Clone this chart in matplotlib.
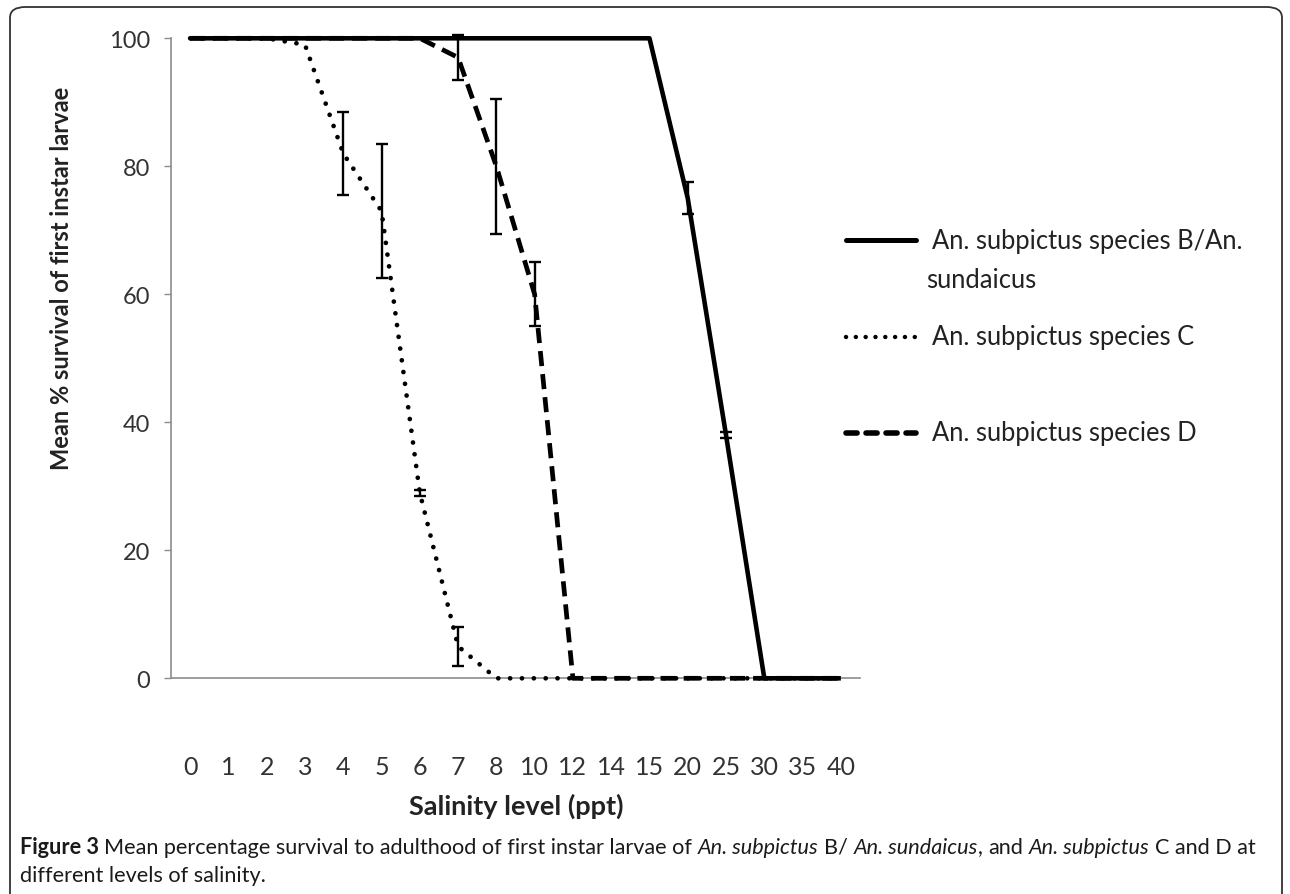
import numpy as np
import matplotlib
matplotlib.use('Agg')
import matplotlib.pyplot as plt
from matplotlib.lines import Line2D
from matplotlib.patches import FancyBboxPatch

# salinity categories (ppt) and mean % survival
salinity = ['0', '1', '2', '3', '4', '5', '6', '7', '8', '10', '12', '14', '15', '20', '25', '30', '35', '40']
species_b = [100, 100, 100, 100, 100, 100, 100, 100, 100, 100, 100, 100, 100, 75, 38, 0, 0, 0]
species_b_err = [0, 0, 0, 0, 0, 0, 0, 0, 0, 0, 0, 0, 0, 2.5, 0.5, 0, 0, 0]
species_c = [100, 100, 100, 99, 82, 73, 29, 5, 0, 0, 0, 0, 0, 0, 0, 0, 0, 0]
species_c_err = [0, 0, 0, 0, 6.5, 10.5, 0.5, 3, 0, 0, 0, 0, 0, 0, 0, 0, 0, 0]
species_d = [100, 100, 100, 100, 100, 100, 100, 97, 80, 60, 0, 0, 0, 0, 0, 0, 0, 0]
species_d_err = [0, 0, 0, 0, 0, 0, 0, 3.5, 10.5, 5, 0, 0, 0, 0, 0, 0, 0, 0]

labels = ['An. subpictus species B/An.\nsundaicus', 'An. subpictus species C', 'An. subpictus species D']

plain = ['Lato', 'DejaVu Sans']

fig = plt.figure(figsize=(12.9, 8.95), dpi=100)
ax = fig.add_axes([171/1290, 1-679.3/895, (860-171)/1290, (679.3-39.3)/895])

x = np.arange(len(salinity))

dotted = (0, (0.01, 2.5))
dashed = (0, (3.2, 1.7))

ax.plot(x, species_c, color='black', lw=3.4, linestyle=dotted, dash_capstyle='round', clip_on=False, zorder=3)
ax.plot(x, species_d, color='black', lw=3.4, linestyle=dashed, dash_capstyle='butt', clip_on=False, zorder=3)
ax.plot(x, species_b, color='black', lw=3.3, linestyle='-', solid_capstyle='butt', clip_on=False, zorder=4)

for vals, errs in [(species_b, species_b_err), (species_c, species_c_err), (species_d, species_d_err)]:
    vals = np.array(vals, dtype=float)
    errs = np.array(errs, dtype=float)
    m = errs > 0
    ax.errorbar(x[m], vals[m], yerr=errs[m], fmt='none', ecolor='black', elinewidth=1.7,
                capsize=4.4, capthick=1.7, zorder=5, clip_on=False)

ax.set_xlim(-0.5, len(salinity) - 0.5)
ax.set_ylim(0, 100)
ax.set_yticks([0, 20, 40, 60, 80, 100])
ax.set_xticks(x)
ax.set_xticklabels(salinity, family=plain, fontsize=18, color='#333333')
for t in ax.get_yticklabels():
    t.set_family(plain)
    t.set_fontsize(17)
    t.set_color('#333333')

ax.tick_params(axis='x', length=0, pad=55)
ax.tick_params(axis='y', direction='out', length=5, width=1, color='#8c8c8c', pad=10)
for s in ['top', 'right']:
    ax.spines[s].set_visible(False)
for s in ['left', 'bottom']:
    ax.spines[s].set_color('#8c8c8c')
    ax.spines[s].set_linewidth(1.2)

fig.text(516/1290, 1-806/895, 'Salinity level (ppt)', ha='center', va='center',
         family=plain, fontweight='bold', fontsize=19.5, color='#222222')
fig.text(62/1290, 1-278/895, 'Mean % survival of first instar larvae', ha='center', va='center',
         rotation=90, family=plain, fontweight='bold', fontsize=17, color='#222222')

# legend, drawn by hand so the first handle sits on the first text line
leg_y = [241, 338, 434]
leg_styles = [dict(linestyle='-', lw=3.6, solid_capstyle='round'),
              dict(linestyle=(0, (0.01, 2.2)), lw=3.2, dash_capstyle='round'),
              dict(linestyle=(0, (2.0, 1.6)), lw=4.0, dash_capstyle='round')]
for yy, lab, st in zip(leg_y, labels, leg_styles):
    fy = 1 - yy/895
    fig.add_artist(Line2D([846/1290, 916/1290], [fy, fy], color='black', transform=fig.transFigure, **st))
    first, *rest = lab.split('\n')
    fig.text(932/1290, fy, first, ha='left', va='center', family=plain, fontsize=18.4, color='#222222')
    for k, r in enumerate(rest):
        fig.text(926/1290, fy - (k+1)*39/895, r, ha='left', va='center', family=plain, fontsize=18.4, color='#222222')

# caption with mixed bold / italic pieces
renderer = fig.canvas.get_renderer()
cap_size = 15.6


def width_of(s, **kw):
    t = fig.text(0, 0, s, fontsize=cap_size, family=plain, **kw)
    w = t.get_window_extent(renderer).width
    t.remove()
    return w


space_w = width_of('x x') - width_of('xx')

line1 = [('Figure 3', 'bold', True),
         ('Mean percentage survival to adulthood of first instar larvae of', 'normal', True),
         ('An. subpictus', 'italic', True),
         ('B/', 'normal', True),
         ('An. sundaicus', 'italic', False),
         (',', 'normal', True),
         ('and', 'normal', True),
         ('An. subpictus', 'italic', True),
         ('C and D at', 'normal', False)]
line2 = [('different levels of salinity.', 'normal', False)]

for parts, yy in [(line1, 848), (line2, 876)]:
    px = 20.0
    for txt, style, sp in parts:
        kw = dict(fontweight='bold') if style == 'bold' else (dict(fontstyle='italic') if style == 'italic' else {})
        t = fig.text(px/1290, 1 - yy/895, txt, ha='left', va='center', fontsize=cap_size,
                     family=plain, color='#1a1a1a', **kw)
        px += t.get_window_extent(renderer).width
        if sp:
            px += space_w

# rounded frame round the figure
frame = FancyBboxPatch((10/1290, -20/895), 1272/1290, (895-8+20)/895,
                       boxstyle='round,pad=0,rounding_size=0.012', transform=fig.transFigure,
                       facecolor='none', edgecolor='#333333', lw=1.3)
fig.add_artist(frame)

fig.savefig('out.png', dpi=100)
